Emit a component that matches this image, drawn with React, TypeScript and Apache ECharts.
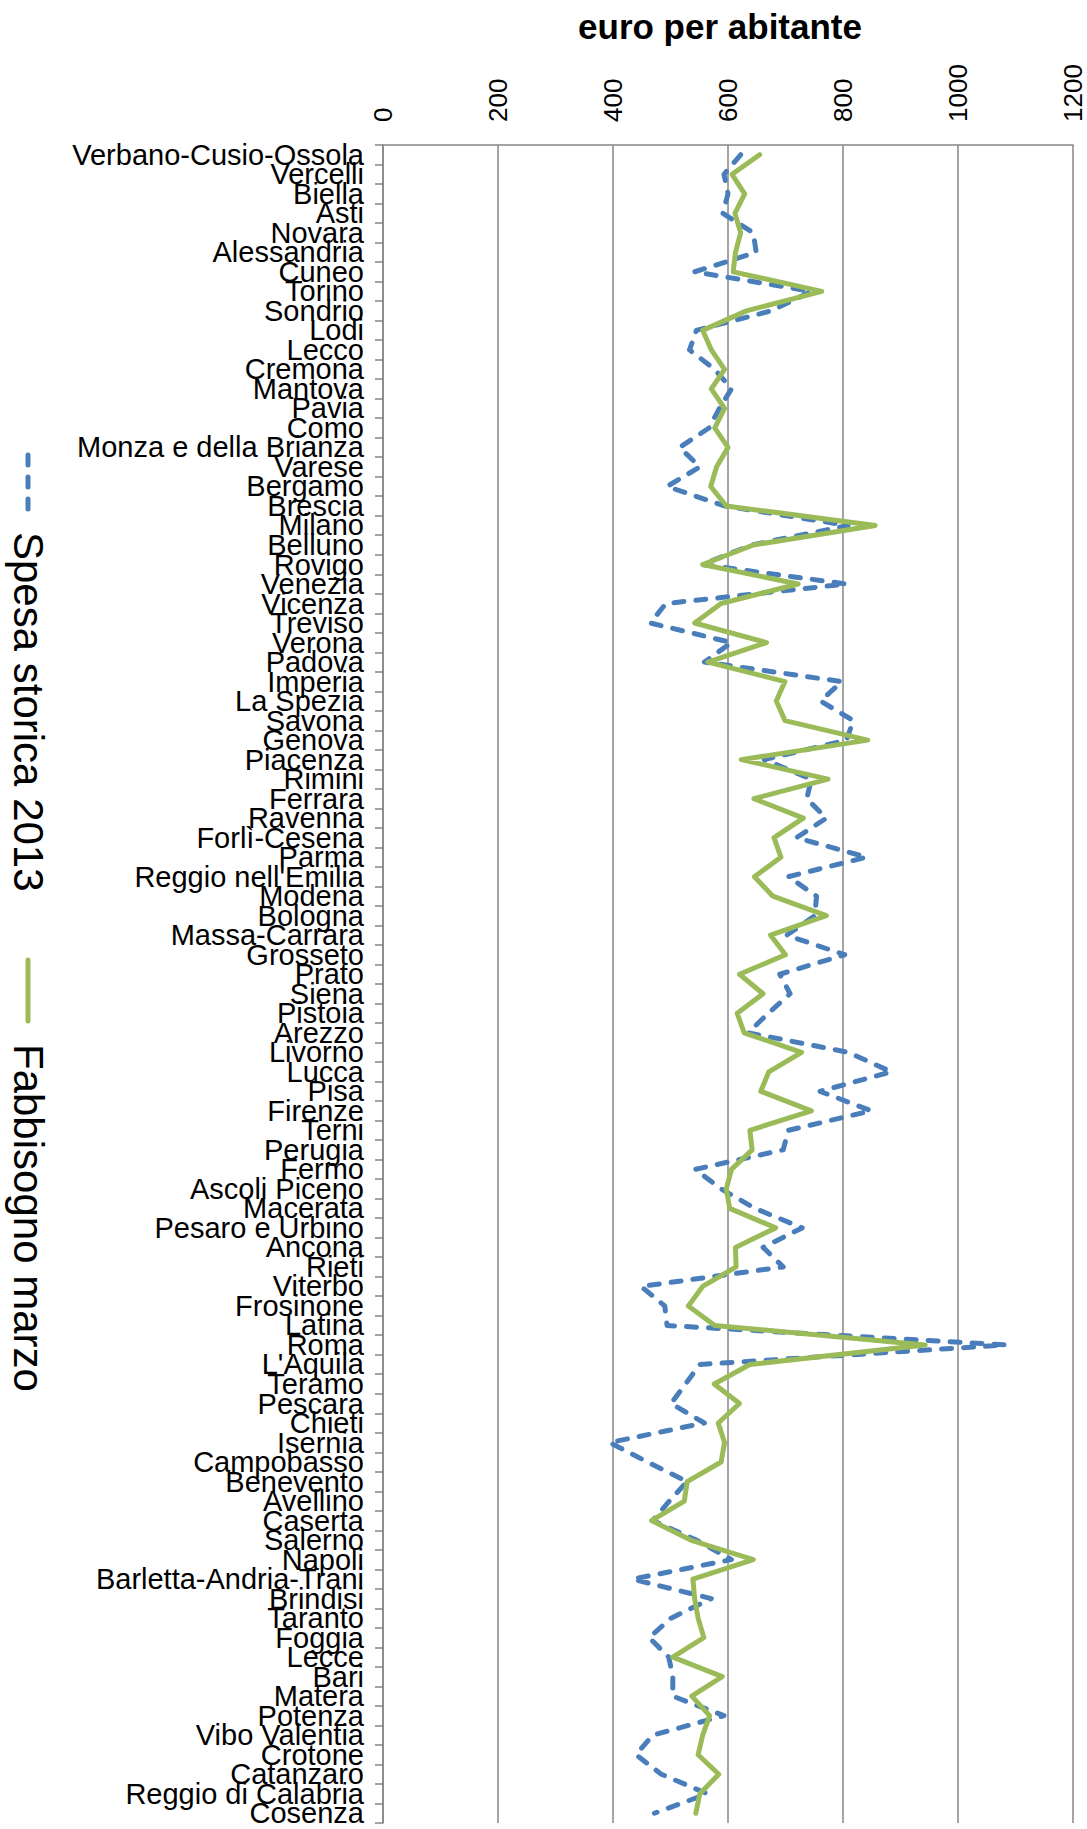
import React, { useEffect, useRef } from "react";
import * as echarts from "echarts";

const categories = [
  "Verbano-Cusio-Ossola", "Vercelli", "Biella", "Asti", "Novara", "Alessandria", "Cuneo", "Torino",
  "Sondrio", "Lodi", "Lecco", "Cremona", "Mantova", "Pavia", "Como", "Monza e della Brianza",
  "Varese", "Bergamo", "Brescia", "Milano", "Belluno", "Rovigo", "Venezia", "Vicenza", "Treviso",
  "Verona", "Padova", "Imperia", "La Spezia", "Savona", "Genova", "Piacenza", "Rimini", "Ferrara",
  "Ravenna", "Forlì-Cesena", "Parma", "Reggio nell'Emilia", "Modena", "Bologna", "Massa-Carrara",
  "Grosseto", "Prato", "Siena", "Pistoia", "Arezzo", "Livorno", "Lucca", "Pisa", "Firenze", "Terni",
  "Perugia", "Fermo", "Ascoli Piceno", "Macerata", "Pesaro e Urbino", "Ancona", "Rieti", "Viterbo",
  "Frosinone", "Latina", "Roma", "L'Aquila", "Teramo", "Pescara", "Chieti", "Isernia", "Campobasso",
  "Benevento", "Avellino", "Caserta", "Salerno", "Napoli", "Barletta-Andria-Trani", "Brindisi",
  "Taranto", "Foggia", "Lecce", "Bari", "Matera", "Potenza", "Vibo Valentia", "Crotone", "Catanzaro",
  "Reggio di Calabria", "Cosenza",
];

const spesaStorica2013 = [
  622, 593, 600, 591, 644, 649, 542, 745, 675, 545, 533, 577, 606, 585, 567, 516,
  551, 494, 594, 809, 641, 555, 806, 492, 465, 606, 559, 798, 761, 818, 806, 663,
  745, 737, 771, 719, 841, 705, 754, 751, 702, 803, 690, 708, 670, 635, 809, 884,
  760, 849, 705, 696, 543, 588, 647, 729, 661, 696, 449, 490, 494, 1083, 551, 526,
  501, 559, 394, 460, 529, 498, 469, 545, 606, 434, 571, 501, 463, 497, 504, 504,
  593, 469, 440, 484, 564, 472,
];

const fabbisognoMarzo = [
  655, 607, 629, 612, 622, 613, 609, 763, 632, 556, 571, 594, 571, 594, 577, 600,
  580, 570, 597, 856, 644, 556, 722, 588, 542, 667, 565, 699, 684, 699, 843, 623,
  774, 645, 731, 680, 692, 646, 678, 771, 674, 700, 620, 661, 616, 628, 728, 671,
  657, 745, 638, 642, 606, 597, 603, 683, 613, 614, 556, 531, 577, 943, 638, 576,
  620, 583, 594, 588, 529, 524, 467, 535, 644, 539, 542, 548, 558, 504, 590, 537,
  568, 556, 548, 584, 551, 544,
];

const seriesNames = ["Spesa storica 2013", "Fabbisogno marzo"];
const axisTitle = "euro per abitante";

const FONT = "'Liberation Sans', Arial, sans-serif";
const BLUE = "#4A7EBB";
const GREEN = "#9BBB59";
const GRAY = "#868686";

export default function App() {
  const ref = useRef<HTMLDivElement>(null);

  useEffect(() => {
    if (!ref.current) return;
    const chart = echarts.init(ref.current, undefined, { renderer: "svg" });
    const option: any = {
      animation: false,
      backgroundColor: "#ffffff",
      grid: { left: 383, right: 14, top: 145, bottom: 6, containLabel: false },
      xAxis: {
        type: "value",
        position: "top",
        min: 0,
        max: 1200,
        interval: 200,
        axisLine: { show: true, lineStyle: { color: GRAY, width: 1.5 } },
        axisTick: { show: false },
        splitLine: { show: true, lineStyle: { color: GRAY, width: 1.5 } },
        axisLabel: {
          rotate: -90,
          fontSize: 26,
          color: "#000",
          margin: 23,
          fontFamily: FONT,
          formatter: (v: number) => String(v),
        },
      },
      yAxis: {
        type: "category",
        data: categories,
        inverse: true,
        boundaryGap: true,
        axisLine: { show: true, lineStyle: { color: GRAY, width: 1.5 } },
        axisTick: { show: true, length: 8, lineStyle: { color: GRAY, width: 1.5 } },
        axisLabel: { interval: 0, fontSize: 29, color: "#000", margin: 19, fontFamily: FONT },
        splitLine: { show: false },
      },
      series: [
        {
          type: "line",
          name: seriesNames[0],
          data: spesaStorica2013,
          symbol: "none",
          lineStyle: { color: BLUE, width: 5, type: [10, 12], cap: "round", join: "round" },
        },
        {
          type: "line",
          name: seriesNames[1],
          data: fabbisognoMarzo,
          symbol: "none",
          lineStyle: { color: GREEN, width: 5, cap: "round", join: "round" },
        },
      ],
      graphic: [
        {
          type: "text",
          x: 720,
          y: 26,
          style: {
            text: axisTitle,
            fontSize: 35,
            fontWeight: "bold",
            fontFamily: FONT,
            fill: "#000",
            align: "center",
            verticalAlign: "middle",
          },
        },
        {
          type: "line",
          shape: { x1: 28, y1: 455, x2: 28, y2: 515 },
          style: { stroke: BLUE, lineWidth: 5, lineDash: [10, 12], lineCap: "round" },
        },
        {
          type: "text",
          x: 28,
          y: 532,
          rotation: -Math.PI / 2,
          style: {
            text: seriesNames[0],
            fontSize: 42,
            fontFamily: FONT,
            fill: "#000",
            align: "left",
            verticalAlign: "middle",
          },
        },
        {
          type: "line",
          shape: { x1: 28, y1: 960, x2: 28, y2: 1021 },
          style: { stroke: GREEN, lineWidth: 5, lineCap: "round" },
        },
        {
          type: "text",
          x: 28,
          y: 1044,
          rotation: -Math.PI / 2,
          style: {
            text: seriesNames[1],
            fontSize: 42,
            fontFamily: FONT,
            fill: "#000",
            align: "left",
            verticalAlign: "middle",
          },
        },
      ],
    };
    chart.setOption(option);
    return () => chart.dispose();
  }, []);

  return (
    <div
      ref={ref}
      style={{ position: "absolute", left: 0, top: 0, width: 1087, height: 1829, background: "#fff" }}
    />
  );
}
